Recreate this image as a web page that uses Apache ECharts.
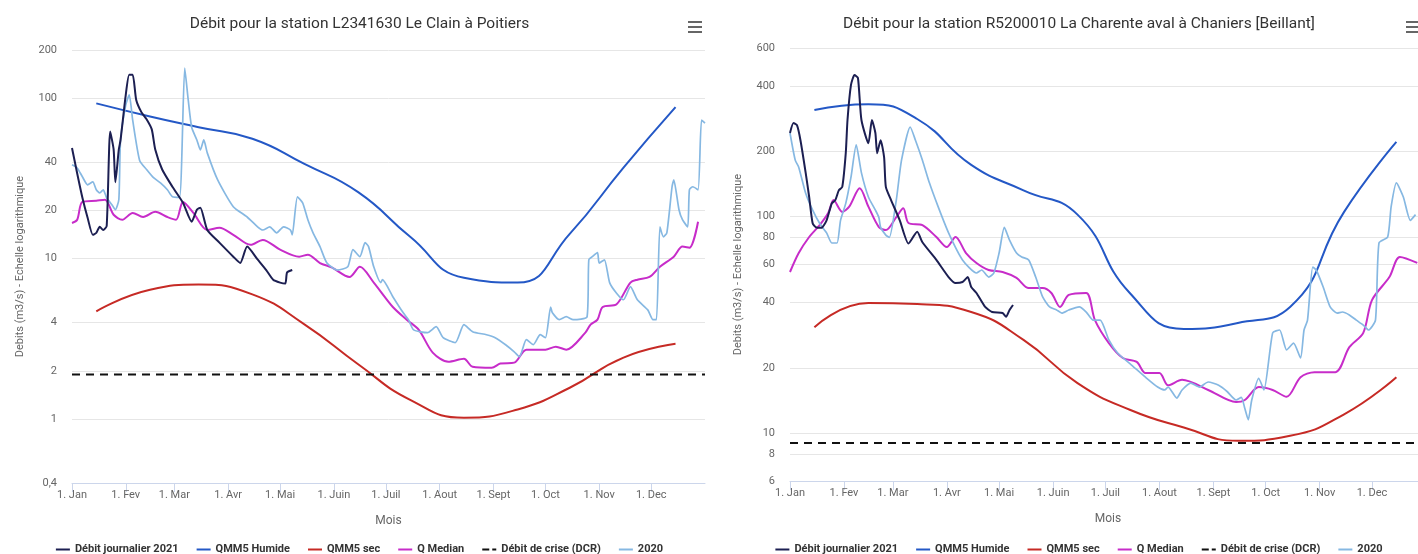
<!DOCTYPE html>
<html>
<head>
<meta charset="utf-8">
<script src="https://cdn.jsdelivr.net/npm/echarts@6/dist/echarts.min.js"></script>
<style>
  html, body { margin: 0; padding: 0; overflow: hidden; background: #fff; width: 1418px; height: 554px; }
  .chart { position: absolute; top: 0; height: 554px; }
  #clain { left: 0; width: 719px; }
  #charente { left: 718px; width: 722px; }
</style>
</head>
<body>
<div id="clain" class="chart"></div>
<div id="charente" class="chart"></div>
<script>
// axe des x : jour de l'annee (0 = 1er janvier)
const monthLabels = ['1. Jan', '1. Fev', '1. Mar', '1. Avr', '1. Mai', '1. Juin', '1. Juil', '1. Aout', '1. Sept', '1. Oct', '1. Nov', '1. Dec'];
const monthStartDays = [0, 31, 59, 90, 120, 151, 181, 212, 243, 273, 304, 334];
const midMonthDays = [14, 45, 73, 104, 134, 165, 195, 226, 257, 287, 318, 348];

const legendNames = ['Débit journalier 2021', 'QMM5 Humide', 'QMM5 sec', 'Q Median', 'Débit de crise (DCR)', '2020'];

// --- L2341630 Le Clain à Poitiers ---
const clainTitle = 'Débit pour la station L2341630 Le Clain à Poitiers';
const clainTicks = [0.4, 1, 2, 4, 10, 20, 40, 100, 200];
const clainHumide = [93, 77, 66, 56, 39, 26, 13.7, 7.6, 7.1, 14.3, 37, 88];
const clainSec = [4.7, 6.4, 6.9, 6.0, 3.9, 2.2, 1.32, 1.02, 1.15, 1.57, 2.42, 2.95];
const clainDcr = 1.9;
const clain2021 = [[0, 49], [3, 34], [6, 24], [9, 18], [12, 14.1], [14, 14.5], [16, 15.8], [18, 15.1], [20, 16],
  [22, 62], [24, 48], [25, 30], [27, 48], [28, 55], [31, 105], [33, 140], [35, 140], [37, 98], [40, 82], [43, 74],
  [46, 64], [48, 48], [52, 36], [58, 28], [64, 22.3], [69, 17], [72, 20.2], [74, 20.8], [78, 15.1], [85, 12.6],
  [93, 10.3], [97, 9.4], [101, 11.9], [107, 9.9], [112, 8.5], [116, 7.4], [120, 7.1], [123, 7.0], [124, 8.2], [127, 8.5]];
const clainMedian = [[0, 16.7], [3, 17.5], [6, 22.6], [14, 23], [19, 23.3], [24, 18.8], [29, 17.5], [35, 19.3],
  [41, 18.2], [48, 19.6], [55, 18.2], [60, 17.5], [64, 22.6], [70, 19.3], [78, 15.1], [85, 15.6], [93, 14.1],
  [103, 12.2], [110, 13.1], [120, 11.4], [131, 10.3], [136, 10.6], [143, 9.4], [150, 8.8], [160, 7.7], [166, 8.9],
  [174, 7.1], [185, 5.0], [193, 4.17], [200, 3.6], [208, 2.6], [217, 2.28], [226, 2.38], [231, 2.12], [242, 2.09],
  [247, 2.22], [255, 2.25], [262, 2.71], [273, 2.71], [279, 2.83], [285, 2.71], [296, 3.46], [299, 3.88],
  [303, 4.17], [306, 5.0], [314, 5.2], [322, 7.1], [326, 7.4], [333, 7.7], [339, 8.9], [347, 10.3], [352, 11.9],
  [356, 11.7], [361, 17]];
const clain2020 = [[0, 38.5], [3, 36.8], [6, 32.4], [9, 28.9], [12, 30.1], [14, 26.9], [16, 25.7], [18, 26.9],
  [20, 23.9], [23, 21.7], [25, 20.2], [27, 23.3], [28, 55], [31, 91], [33, 105], [35, 73], [39, 41], [43, 36],
  [47, 32], [51, 29.7], [55, 26.9], [58, 24.3], [62, 24.1], [65, 154], [67, 98], [69, 66], [72, 55], [74, 47.7],
  [76, 55], [78, 45.7], [84, 31], [93, 21.1], [101, 18.2], [107, 15.8], [110, 15.1], [114, 15.8], [118, 14.5],
  [122, 15.8], [126, 15.1], [127, 14.1], [130, 24.3], [133, 22.3], [136, 17.5], [139, 14.5], [143, 11.9],
  [147, 9.4], [153, 8.5], [159, 8.9], [162, 11.4], [166, 10.3], [169, 12.6], [171, 11.9], [174, 8.9], [178, 7.1],
  [179, 7.4], [185, 5.8], [191, 4.6], [194, 4.17], [197, 3.6], [205, 3.46], [210, 3.77], [214, 3.22], [221, 3.0],
  [226, 3.88], [231, 3.51], [239, 3.36], [244, 3.22], [250, 2.91], [255, 2.63], [258, 2.45], [262, 3.13],
  [266, 2.91], [270, 3.36], [273, 3.22], [276, 5.0], [277, 4.6], [281, 4.17], [285, 4.35], [289, 4.17],
  [297, 4.35], [298, 9.85], [300, 10.3], [303, 10.9], [304, 9.4], [307, 9.85], [310, 7.1], [314, 6.1],
  [318, 5.55], [322, 6.7], [326, 5.55], [332, 4.8], [335, 4.17], [337, 4.17], [339, 15.8], [341, 13.7],
  [343, 14.5], [346, 28.1], [347, 31], [350, 20.2], [352, 17.5], [355, 15.8], [356, 26.9], [358, 28.1],
  [361, 26.9], [363, 73], [365, 70]];

// --- R5200010 La Charente aval à Chaniers [Beillant] ---
const charenteTitle = 'Débit pour la station R5200010 La Charente aval à Chaniers [Beillant]';
const charenteTicks = [6, 8, 10, 20, 40, 60, 80, 100, 200, 400, 600];
const charenteHumide = [310, 330, 282, 173, 132, 102, 44.3, 30.2, 32.2, 38.2, 105, 221];
const charenteSec = [30.8, 39.8, 39.4, 36.2, 26.9, 17.0, 12.8, 10.6, 9.2, 9.7, 12.2, 18.1];
const charenteDcr = 9;
const charente2021 = [[0, 243], [2, 270], [4, 264], [6, 225], [9, 159], [11, 123], [13, 93], [15, 89], [18, 88.6],
  [21, 96], [24, 115], [26, 119], [28, 132], [30, 137], [32, 196], [33, 279], [35, 405], [37, 450], [39, 436],
  [41, 279], [45, 218], [47, 279], [49, 243], [50, 196], [52, 225], [54, 188], [55, 137], [58, 119], [63, 96],
  [68, 75], [73, 85], [76, 76], [84, 63], [91, 52.5], [95, 49.3], [99, 49.8], [102, 52.5], [104, 47.2],
  [107, 44.3], [112, 38.2], [116, 36.2], [122, 35.8], [124, 34.4], [126, 37], [128, 39]];
const charenteMedian = [[0, 55.4], [5, 67.8], [11, 80.4], [17, 91.2], [22, 104], [25, 119], [30, 105], [34, 111],
  [40, 135], [45, 111], [51, 89.3], [55, 86.5], [61, 99.3], [65, 109], [68, 93.3], [76, 91.2], [84, 80.4],
  [90, 72.3], [95, 80.4], [101, 67.8], [107, 61], [114, 56.6], [122, 55.4], [130, 52], [137, 46.7], [145, 46.7],
  [150, 44.3], [155, 38.2], [160, 43.4], [170, 44.3], [175, 33.2], [183, 26], [191, 22.2], [199, 21.3],
  [204, 18.9], [212, 18.9], [217, 16.6], [225, 17.6], [240, 15.8], [256, 13.9], [261, 14.2], [269, 16.3],
  [277, 15.8], [285, 14.7], [293, 18.1], [301, 19.1], [313, 19.1], [321, 24.9], [329, 29], [334, 41.1],
  [344, 52.5], [350, 65], [360, 61]];
const charente2020 = [[0, 243], [3, 182], [5, 169], [9, 128], [13, 107], [17, 93], [21, 84], [24, 75.4], [27, 75.4],
  [29, 96], [32, 115], [35, 152], [38, 214], [41, 159], [45, 123], [49, 107], [51, 99], [52, 89], [55, 82],
  [57, 80], [61, 119], [64, 182], [69, 259], [72, 225], [76, 182], [80, 143], [85, 111], [91, 84], [99, 63],
  [107, 54.8], [110, 56.6], [114, 52.5], [117, 54.8], [120, 67.8], [123, 89], [126, 77.8], [130, 67.8], [133, 65],
  [137, 63], [141, 52.5], [145, 42.5], [149, 38.2], [153, 37], [156, 35.8], [160, 37], [166, 38.2], [170, 36.2],
  [174, 33.2], [178, 33.2], [183, 26.9], [188, 23.4], [196, 20.6], [204, 18.1], [211, 16.3], [215, 15.8],
  [217, 16.3], [222, 14.5], [225, 15.8], [230, 17], [235, 16.3], [240, 17.2], [246, 16.6], [251, 15.5],
  [256, 14.2], [259, 14.6], [261, 13], [263, 11.5], [265, 14.2], [269, 17.9], [272, 15.8], [277, 29], [281, 29.9],
  [285, 24.2], [289, 26], [293, 22.2], [295, 29.9], [297, 33.2], [300, 58.3], [302, 56.6], [306, 47.2],
  [310, 38.2], [314, 35.8], [317, 36.2], [321, 35.1], [325, 33.2], [329, 31.5], [332, 29.9], [336, 33.2],
  [338, 75.4], [343, 80.4], [345, 111], [348, 143], [352, 123], [356, 96], [359, 102]];

const colors = ['#1c1f52', '#2458c6', '#c62a25', '#c72cc9', '#111111', '#86b8e2'];
const textFont = 'Roboto, "Liberation Sans", sans-serif';
const lineIcon = 'path://M0,0h14v2h-14z';
const dashDotIcon = 'path://M0,0h7v2h-7z M10,0h3v2h-3z M13,0h1v2h-1z';

const logLabel = function (v) {
  const r = Math.round(v * 10) / 10;
  return String(r).replace('.', ',');
};
const monthLabel = function (v) {
  const i = monthStartDays.indexOf(Math.round(v));
  return i >= 0 ? monthLabels[i] : '';
};
const monthly = function (values) {
  return midMonthDays.map((d, i) => [d, values[i]]);
};

function makeChart(dom, s) {
  const lineSeries = (name, data, extra) => Object.assign({
    name: name,
    type: 'line',
    data: data,
    symbol: 'none',
    lineStyle: { width: 2 },
    emphasis: { disabled: true }
  }, extra || {});

  const option = {
    animation: false,
    color: colors,
    title: {
      text: s.title,
      left: 'center',
      top: 11,
      textStyle: { fontFamily: textFont, fontSize: 15.5, fontWeight: 'normal', color: '#333' }
    },
    legend: {
      top: 539,
      left: 'center',
      itemWidth: 14,
      itemHeight: 2,
      itemGap: 18,
      textStyle: { fontFamily: textFont, fontSize: 11, fontWeight: 'bold', color: '#333' },
      data: legendNames.map((n, i) => ({ name: n, icon: i === 4 ? dashDotIcon : lineIcon }))
    },
    grid: { left: 72, right: 14, top: s.top, bottom: 554 - s.bottomY },
    xAxis: {
      type: 'value',
      min: 0,
      max: 365,
      name: 'Mois',
      nameLocation: 'middle',
      nameGap: 32,
      nameTextStyle: { fontFamily: textFont, fontSize: 12, color: '#666' },
      axisLine: { lineStyle: { color: '#ccd6eb' } },
      axisTick: { customValues: monthStartDays, length: 9, lineStyle: { color: '#ccd6eb' } },
      axisLabel: { customValues: monthStartDays, formatter: monthLabel, fontFamily: textFont, fontSize: 11, color: '#666', margin: 7 },
      splitLine: { show: false }
    },
    yAxis: {
      type: 'log',
      logBase: 10,
      min: s.ticks[0],
      max: s.ticks[s.ticks.length - 1],
      name: 'Debits (m3/s) - Echelle logarithmique',
      nameLocation: 'middle',
      nameGap: 46,
      nameTextStyle: { fontFamily: textFont, fontSize: 11, color: '#666' },
      axisLine: { show: false },
      axisTick: { show: false, customValues: s.ticks },
      axisLabel: { customValues: s.ticks, formatter: logLabel, fontFamily: textFont, fontSize: 11, color: '#666', margin: 15 },
      splitLine: { show: true, lineStyle: { color: '#e6e6e6' } }
    },
    graphic: [{
      type: 'group',
      left: 688,
      top: 21,
      children: [0, 5, 10].map(y => ({
        type: 'rect',
        shape: { x: 0, y: y, width: 14, height: 2 },
        style: { fill: '#666' }
      }))
    }],
    series: [
      lineSeries(legendNames[0], s.y2021, { smooth: 0.2, z: 5 }),
      lineSeries(legendNames[1], monthly(s.humide), { smooth: true }),
      lineSeries(legendNames[2], monthly(s.sec), { smooth: true }),
      lineSeries(legendNames[3], s.median, { smooth: 0.3 }),
      lineSeries(legendNames[4], [[0, s.dcr], [365, s.dcr]], { lineStyle: { width: 2, type: [8, 6] } }),
      lineSeries(legendNames[5], s.y2020, { smooth: 0.2, lineStyle: { width: 1.7 } })
    ]
  };
  const chart = echarts.init(dom);
  chart.setOption(option);
  return chart;
}

makeChart(document.getElementById('clain'), {
  title: clainTitle, ticks: clainTicks, top: 50, bottomY: 483,
  humide: clainHumide, sec: clainSec, dcr: clainDcr,
  y2021: clain2021, median: clainMedian, y2020: clain2020
});
makeChart(document.getElementById('charente'), {
  title: charenteTitle, ticks: charenteTicks, top: 48, bottomY: 481,
  humide: charenteHumide, sec: charenteSec, dcr: charenteDcr,
  y2021: charente2021, median: charenteMedian, y2020: charente2020
});
</script>
</body>
</html>
